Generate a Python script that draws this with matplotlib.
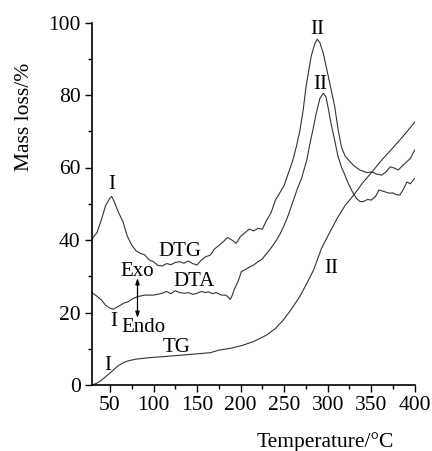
import matplotlib
matplotlib.use("Agg")
import matplotlib.pyplot as plt

plt.rcParams['font.family'] = ['Liberation Serif', 'DejaVu Serif']

# Temperature (°C) / value pairs
dtg_t = [29, 35, 40, 45, 50, 52, 55, 60, 65, 70, 75, 80, 85, 90, 95, 100, 105, 110,
         115, 120, 125, 130, 135, 140, 145, 150, 155, 160, 165, 170, 175, 180, 185,
         190, 195, 200, 205, 210, 215, 220, 225, 230, 235, 240, 245, 250, 255, 260,
         264, 268, 272, 275, 281, 285, 288, 291, 295, 300, 304, 308, 312, 316, 320,
         325, 330, 337, 345, 351, 356, 362, 367, 372, 377, 381, 386, 391, 395, 400]
dtg_v = [40.2, 42, 45.5, 49.5, 51.6, 52, 50.5, 47.5, 45, 41, 38.6, 37, 36.3, 35.9,
         34.5, 34, 33, 32.8, 33.5, 33.2, 33.8, 34, 33.6, 34.2, 33.5, 33.1, 34.5, 35.4,
         35.8, 37.5, 38.5, 39.5, 40.7, 40, 39.1, 41, 42, 43, 42.5, 43.2, 43, 45.5,
         47.5, 51, 53, 55, 58.5, 62, 65.7, 70, 76, 82, 90.6, 94, 95.4, 94.5, 91.5, 86,
         81.5, 77, 70.5, 65.5, 63.2, 61.8, 60.5, 59.3, 58.6, 58.8, 58.2, 57.9, 58.8,
         60.2, 59.8, 59.3, 60.5, 61.6, 62.5, 64.8]

dta_t = [29, 35, 40, 45, 50, 54, 58, 62, 66, 71, 76, 82, 90, 100, 110, 115, 120, 125,
         130, 136, 140, 145, 150, 155, 160, 163, 168, 172, 178, 183, 186, 188, 190,
         193, 197, 201, 205, 210, 215, 220, 225, 230, 235, 240, 245, 250, 255, 260,
         265, 270, 276, 280, 283, 287, 291, 295, 298, 301, 304, 308, 312, 316, 319,
         323, 328, 333, 337, 341, 346, 350, 355, 359, 363, 367, 371, 375, 379, 383,
         387, 391, 395, 400]
dta_v = [25.5, 24.5, 23.5, 22, 21.2, 20.9, 21.5, 22, 22.6, 23, 23.8, 24.4, 24.8, 24.8,
         25.3, 25.8, 25.2, 26, 25.5, 25.3, 25.5, 25.0, 25.3, 25.8, 25.5, 25.7, 25.2,
         25.5, 24.8, 24.8, 24.2, 23.6, 24.5, 26.5, 28.5, 31.3, 31.8, 32.5, 33.1, 34,
         34.8, 36.3, 37.8, 39.5, 41.5, 44, 47, 50.5, 54, 57, 62, 67, 70.3, 75, 79,
         80.5, 79.5, 76, 72, 67.6, 63, 60, 58.4, 56, 53.5, 51.5, 50.6, 50.6, 51.2, 51,
         52, 53.8, 53.5, 53.2, 52.9, 53, 52.5, 52.4, 54, 56, 55.5, 57]

tg_t = [29, 35, 40, 45, 50, 55, 60, 65, 70, 79, 90, 98, 110, 120, 136, 150, 165, 175,
        190, 203, 215, 230, 240, 249, 258, 268, 276, 284, 293, 300, 311, 320, 330,
        340, 351, 363, 376, 388, 400]
tg_v = [0, 0.5, 1.3, 2.3, 3.3, 4.4, 5.4, 6.1, 6.6, 7.1, 7.4, 7.6, 7.8, 8.0, 8.3, 8.6,
        8.9, 9.6, 10.2, 11, 12, 13.8, 15.6, 17.9, 20.8, 24.4, 28, 31.8, 37.7, 41, 46,
        49.5, 52.4, 55.7, 58.8, 62.3, 65.7, 69, 72.5]

x_ticks = [50, 100, 150, 200, 250, 300, 350, 400]
y_ticks = [0, 20, 40, 60, 80, 100]

fig = plt.figure(figsize=(4.32, 4.51), dpi=100)
ax = fig.add_axes([91.7/432, 1 - 385/451, (414.7 - 91.7)/432, (385 - 22.5)/451])

lc = '#333333'
lw = 0.8
ax.plot(dtg_t, dtg_v, color=lc, lw=lw)
ax.plot(dta_t, dta_v, color=lc, lw=lw)
ax.plot(tg_t, tg_v, color=lc, lw=lw)

ax.set_xlim(29, 400)
ax.set_ylim(0, 100)
ax.set_xticks(x_ticks)
ax.set_yticks(y_ticks)
ax.set_xticks(range(75, 400, 50), minor=True)
ax.set_yticks(range(10, 100, 20), minor=True)
ax.tick_params(which='major', direction='out', length=5, width=1.0, labelsize=15.5, pad=3)
ax.tick_params(which='minor', direction='out', length=3, width=1.0)
for s in ['top', 'right']:
    ax.spines[s].set_visible(False)
for s in ['left', 'bottom']:
    ax.spines[s].set_linewidth(1.2)

fs = 15
ax.text(52, 55.2, 'I', ha='center', va='center', fontsize=fs)
ax.text(288, 98, 'II', ha='center', va='center', fontsize=fs)
ax.text(291, 83, 'II', ha='center', va='center', fontsize=fs)
ax.text(130.5, 36.8, 'DTG', ha='center', va='center', fontsize=fs)
ax.text(146, 28.5, 'DTA', ha='center', va='center', fontsize=fs)
ax.text(81.4, 31.4, 'Exo', ha='center', va='center', fontsize=fs)
ax.text(88, 15.8, 'Endo', ha='center', va='center', fontsize=fs)
ax.text(54, 17.5, 'I', ha='center', va='center', fontsize=fs)
ax.text(126.6, 10.3, 'TG', ha='center', va='center', fontsize=fs)
ax.text(48, 5.5, 'I', ha='center', va='center', fontsize=fs)
ax.text(304, 32.2, 'II', ha='center', va='center', fontsize=fs)
ax.annotate('', xy=(81.6, 29.5), xytext=(81.6, 18.5),
            arrowprops=dict(arrowstyle='<|-|>,head_length=0.35,head_width=0.12',
                            color='black', lw=0.9, shrinkA=0, shrinkB=0))

fig.text(25/432, 1 - 117/451, 'Mass loss/%', rotation=90, ha='center', va='center', fontsize=15.5)
fig.text(325/432, 1 - 441.7/451, 'Temperature/°C', ha='center', va='center', fontsize=15.5)

fig.savefig('out.png', dpi=100)
